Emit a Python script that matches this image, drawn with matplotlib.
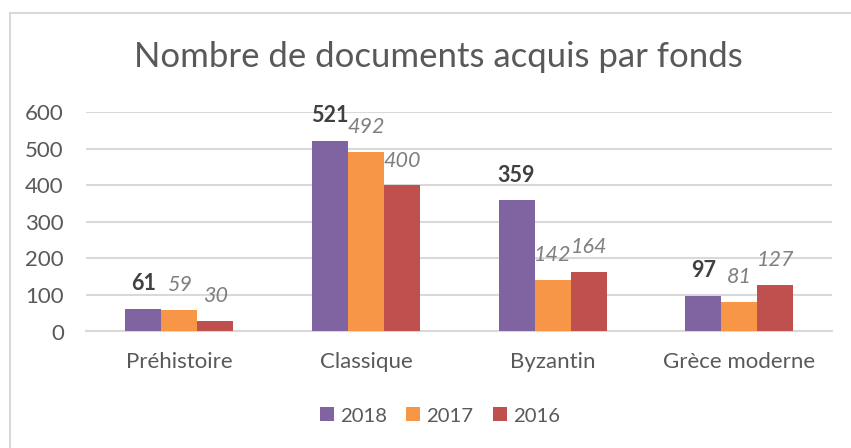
import matplotlib
matplotlib.use("Agg")
import matplotlib.pyplot as plt
from matplotlib.patches import Rectangle
import numpy as np

categories = ["Préhistoire", "Classique", "Byzantin", "Grèce moderne"]
series_names = ["2018", "2017", "2016"]
values_2018 = [61, 521, 359, 97]
values_2017 = [59, 492, 142, 81]
values_2016 = [30, 400, 164, 127]
y_ticks = [0, 100, 200, 300, 400, 500, 600]
title = "Nombre de documents acquis par fonds"

colors = ["#8064A2", "#F79646", "#C0504D"]
label_colors = ["#404040", "#7F7F7F", "#7F7F7F"]
label_weights = ["bold", "normal", "normal"]
label_styles = ["normal", "italic", "italic"]

plt.rcParams["font.family"] = ["Lato", "DejaVu Sans"]

W, H = 851, 448
fig = plt.figure(figsize=(W / 100, H / 100), dpi=100)

# chart border
fig.patches.append(Rectangle((10 / W, -0.1), 1.2, 1 - 13 / H + 0.1,
                             transform=fig.transFigure, fill=False,
                             edgecolor="#D9D9D9", linewidth=1.5))

ax = fig.add_axes([86 / W, 1 - 331.5 / H, (832.5 - 86) / W, (331.5 - 112.3) / H])

x = np.arange(len(categories))
bw = 0.193
all_vals = [values_2018, values_2017, values_2016]
for i, (vals, name) in enumerate(zip(all_vals, series_names)):
    pos = x + (i - 1) * bw
    ax.bar(pos, vals, width=bw, color=colors[i], label=name, zorder=3,
           edgecolor="none")
    for xp, v in zip(pos, vals):
        ax.annotate(str(v), (xp, v), xytext=(0, 13.5), textcoords="offset points",
                    ha="center", va="baseline", fontsize=15.5,
                    color=label_colors[i], fontweight=label_weights[i],
                    fontstyle=label_styles[i], zorder=4)

ax.set_xlim(-0.5, len(categories) - 0.5)
ax.set_ylim(0, 600)
ax.set_yticks(y_ticks)
ax.set_xticks(x)
ax.set_xticklabels(categories)
ax.grid(axis="y", color="#D9D9D9", linewidth=1.5, zorder=0)
ax.set_axisbelow(True)
for s in ["top", "right", "left"]:
    ax.spines[s].set_visible(False)
ax.spines["bottom"].set_color("#D9D9D9")
ax.spines["bottom"].set_linewidth(1.5)
ax.tick_params(axis="both", length=0, labelsize=16, labelcolor="#595959")
ax.tick_params(axis="y", pad=16)
ax.tick_params(axis="x", pad=15)

fig.text(438 / W, 1 - 57 / H, title, ha="center", va="center",
         fontsize=25, color="#595959")

leg = fig.legend(loc="center", bbox_to_anchor=(440 / W, 1 - 416 / H), ncol=3,
                 frameon=False, fontsize=14.6, handlelength=0.69, handleheight=0.69,
                 columnspacing=0.96, handletextpad=0.3)
for t in leg.get_texts():
    t.set_color("#595959")

fig.savefig("out.png", dpi=100, facecolor="white")
